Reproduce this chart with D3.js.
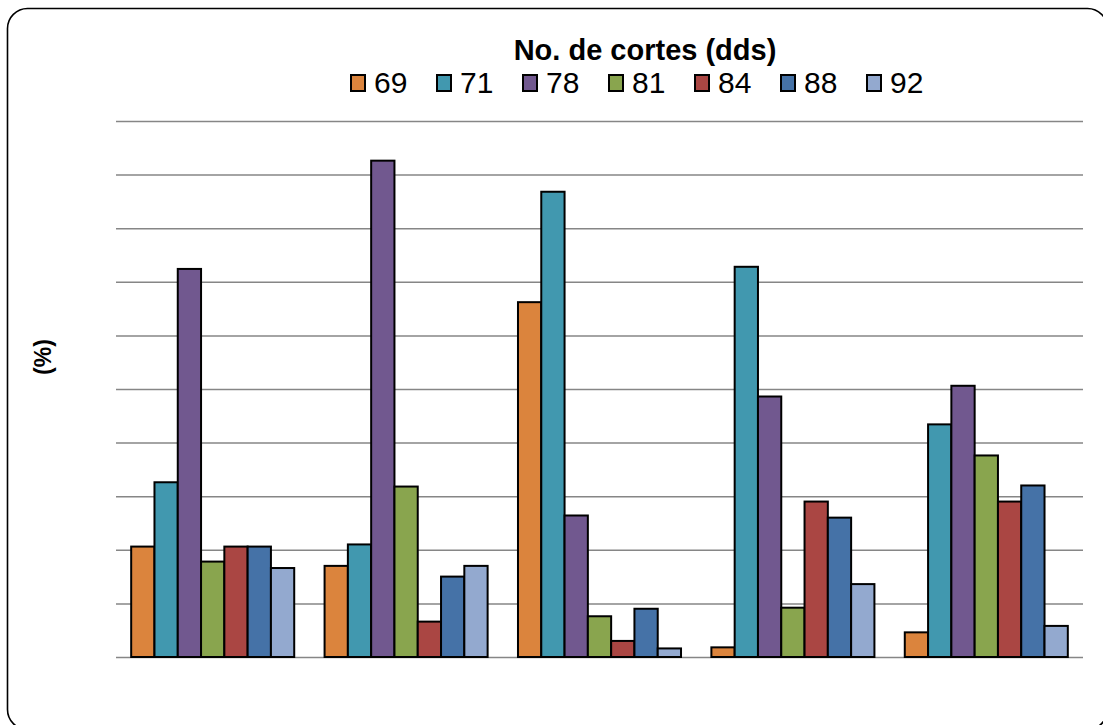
<!DOCTYPE html>
<html>
<head>
<meta charset="utf-8">
<script src="https://cdn.jsdelivr.net/npm/d3@7"></script>
<style>
  html, body { margin: 0; padding: 0; background: #fff; }
  svg { display: block; font-family: "Liberation Sans", Arial, sans-serif; }
</style>
</head>
<body>
<svg id="chart" width="1103" height="725"></svg>
<script>
// Harvest groups (unlabelled on the axis) and the cut dates shown in the legend
const groups = ["G1", "G2", "G3", "G4", "G5"];
const series = ["69", "71", "78", "81", "84", "88", "92"];
const colors = ["#DB843D", "#4198AF", "#71588F", "#89A54E", "#AA4643", "#4572A7", "#93A9CF"];

// Percentage per cut date, one array per series (values across the five groups)
const v69 = [10.3, 8.5, 33.1, 0.9, 2.3];
const v71 = [16.3, 10.5, 43.4, 36.4, 21.7];
const v78 = [36.2, 46.3, 13.2, 24.3, 25.3];
const v81 = [8.9, 15.9, 3.8, 4.6, 18.8];
const v84 = [10.3, 3.3, 1.5, 14.5, 14.5];
const v88 = [10.3, 7.5, 4.5, 13.0, 16.0];
const v92 = [8.3, 8.5, 0.8, 6.8, 2.9];
const seriesValues = [v69, v71, v78, v81, v84, v88, v92];

const yTicks = [0, 5, 10, 15, 20, 25, 30, 35, 40, 45, 50];

const svg = d3.select("#chart");
const margin = { left: 116, right: 20, top: 121, bottom: 68 };
const W = 1103, H = 725;

// Outer rounded frame (runs past the right and bottom edges)
svg.append("rect")
  .attr("x", 7.5).attr("y", 8.5)
  .attr("width", 1100).attr("height", 721)
  .attr("rx", 20).attr("ry", 20)
  .attr("fill", "#fff").attr("stroke", "#000").attr("stroke-width", 1.6);

const x0 = d3.scaleBand()
  .domain(groups)
  .range([margin.left, W - margin.right])
  .paddingInner(0.157)
  .paddingOuter(0.0785);

const x1 = d3.scaleBand()
  .domain(series)
  .range([0, x0.bandwidth()]);

const y = d3.scaleLinear()
  .domain([0, 50])
  .range([H - margin.bottom, margin.top]);

// Horizontal gridlines
const yAxis = d3.axisLeft(y).tickValues(yTicks).tickSize(-(W - margin.right - margin.left)).tickFormat("");
const gy = svg.append("g")
  .attr("transform", `translate(${margin.left},0)`)
  .call(yAxis);
gy.select(".domain").remove();
gy.selectAll(".tick line").attr("stroke", "#868686").attr("stroke-width", 1.5);

// Bars
const gGroups = svg.append("g").selectAll("g")
  .data(groups)
  .join("g")
  .attr("transform", d => `translate(${x0(d)},0)`);

gGroups.selectAll("rect")
  .data((g, gi) => series.map((s, si) => ({ s, si, v: seriesValues[si][gi] })))
  .join("rect")
  .attr("x", d => x1(d.s))
  .attr("width", x1.bandwidth())
  .attr("y", d => y(d.v))
  .attr("height", d => y(0) - y(d.v))
  .attr("fill", d => colors[d.si])
  .attr("stroke", "#000")
  .attr("stroke-width", 2);

// Legend title
svg.append("text")
  .attr("x", 645).attr("y", 60)
  .attr("text-anchor", "middle")
  .attr("font-size", 29).attr("font-weight", "bold")
  .text("No. de cortes (dds)");

// Legend entries
const legend = svg.append("g").selectAll("g")
  .data(series)
  .join("g")
  .attr("transform", (d, i) => `translate(${350 + i * 86},0)`);
legend.append("rect")
  .attr("x", 1).attr("y", 75)
  .attr("width", 14).attr("height", 16)
  .attr("fill", (d, i) => colors[i])
  .attr("stroke", "#000").attr("stroke-width", 2);
legend.append("text")
  .attr("x", 24).attr("y", 93)
  .attr("font-size", 30)
  .text(d => d);

// Y axis title
svg.append("text")
  .attr("transform", "translate(51,357) rotate(-90)")
  .attr("text-anchor", "middle")
  .attr("font-size", 23).attr("font-weight", "bold")
  .text("(%)");
</script>
</body>
</html>
